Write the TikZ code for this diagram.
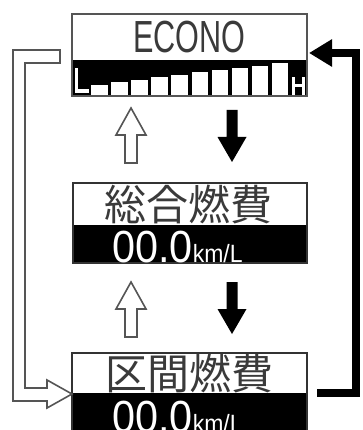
\documentclass[tikz,border=0pt]{standalone}
\usepackage{fontspec}
\setmainfont{Liberation Sans}
\newfontfamily\cjk{Noto Sans CJK JP}
\usetikzlibrary{arrows.meta}
\definecolor{outline}{HTML}{555555}
\definecolor{lcdtext}{HTML}{3A3A3A}
\begin{document}
\begin{tikzpicture}[x=1pt,y=-1pt,
  panel/.style={rectangle, draw=#1, line width=1.6pt, fill=white, inner sep=0pt, outer sep=0pt, anchor=north west},
  bigtxt/.style={font=\fontsize{45}{45}\selectfont, inner sep=0pt},
  jptxt/.style={font=\cjk\fontsize{42}{42}\selectfont, text=lcdtext, inner sep=0pt, anchor=base},
  hollowup/.pic={\draw[outline, line width=1.6pt, fill=white] (0,0) -- (15,27) -- (6,27) -- (6,55) -- (-6,55) -- (-6,27) -- (-15,27) -- cycle;},
  blackdown/.pic={\fill[black] (-5.5,0) -- (5.5,0) -- (5.5,27) -- (14.5,27) -- (0,52) -- (-14.5,27) -- (-5.5,27) -- cycle;}
]
\useasboundingbox (0,0) rectangle (362,430);
\clip (0,0) rectangle (362,430);
\fill[white] (0,0) rectangle (362,430);

% ---------- top panel: ECONO with gauge ----------
\node[panel=outline, minimum width=235pt, minimum height=82pt] (econo) at (72,14) {};
\node[bigtxt, text=lcdtext, xscale=0.68, anchor=base] (econotxt) at (189.5,53) {ECONO};
\fill[black] (73,60) rectangle (306.5,95.5);
\foreach \i/\t in {0/85,1/82.5,2/80,3/77.5,4/75,5/72.5,6/70,7/68,8/66,9/63}
  \fill[white] ({91+20.1*\i},\t) rectangle ++(16.5,{95.5-\t});
% L
\fill[white] (75,68) rectangle (78,93);
\fill[white] (75,89) rectangle (89,93);
% H
\fill[white] (292,77) rectangle (295,95.5);
\fill[white] (302,77) rectangle (305,95.5);
\fill[white] (292,84.5) rectangle (305,87.5);
\draw[outline, line width=1.6pt] (72,14) rectangle (307,96);

% ---------- middle panel ----------
\node[panel=black!80, minimum width=234pt, minimum height=80pt] (total) at (73,183) {};
\fill[black] (73,225) rectangle (307,263);
\draw[black!80, line width=1.6pt] (73,183) rectangle (307,263);
\node[jptxt] (totaltxt) at (188,220) {総合燃費};
\node[inner sep=0pt, anchor=base west, text=white, xscale=0.92] (totalval) at (112,262)
  {{\fontsize{45}{45}\selectfont 00.0}{\fontsize{25}{25}\selectfont km/L}};

% ---------- bottom panel ----------
\node[panel=black!80, minimum width=235pt, minimum height=80pt] (section) at (72,353) {};
\fill[black] (72,393) rectangle (307,433);
\draw[black!80, line width=1.6pt] (72,353) rectangle (307,440);
\node[jptxt] (sectiontxt) at (189,389) {区間燃費};
\node[inner sep=0pt, anchor=base west, text=white, xscale=0.92] (sectionval) at (112,432)
  {{\fontsize{45}{45}\selectfont 00.0}{\fontsize{25}{25}\selectfont km/L}};

% ---------- arrows between panels ----------
\pic at (131,108) {hollowup};
\pic at (232,110) {blackdown};
\pic at (131,282) {hollowup};
\pic at (232,282) {blackdown};

% ---------- right return arrow (section -> econo) ----------
\draw[black, line width=8.5pt, line join=miter, -{Triangle[length=23pt,width=26pt]}]
  ([xshift=10pt]section.east) -| (356,53) -- ([xshift=2pt,yshift=2pt]econo.east);

% ---------- left hollow return arrow (econo -> section) ----------
\draw[outline, line width=1.6pt, fill=white, line join=miter]
  (60,50) -- (13,50) -- (13,401) -- (47,401) -- (47,408) -- ([yshift=-1pt]section.west)
  -- (47,380) -- (47,388) -- (25,388) -- (25,63) -- (60,63) -- cycle;
\end{tikzpicture}
\end{document}
